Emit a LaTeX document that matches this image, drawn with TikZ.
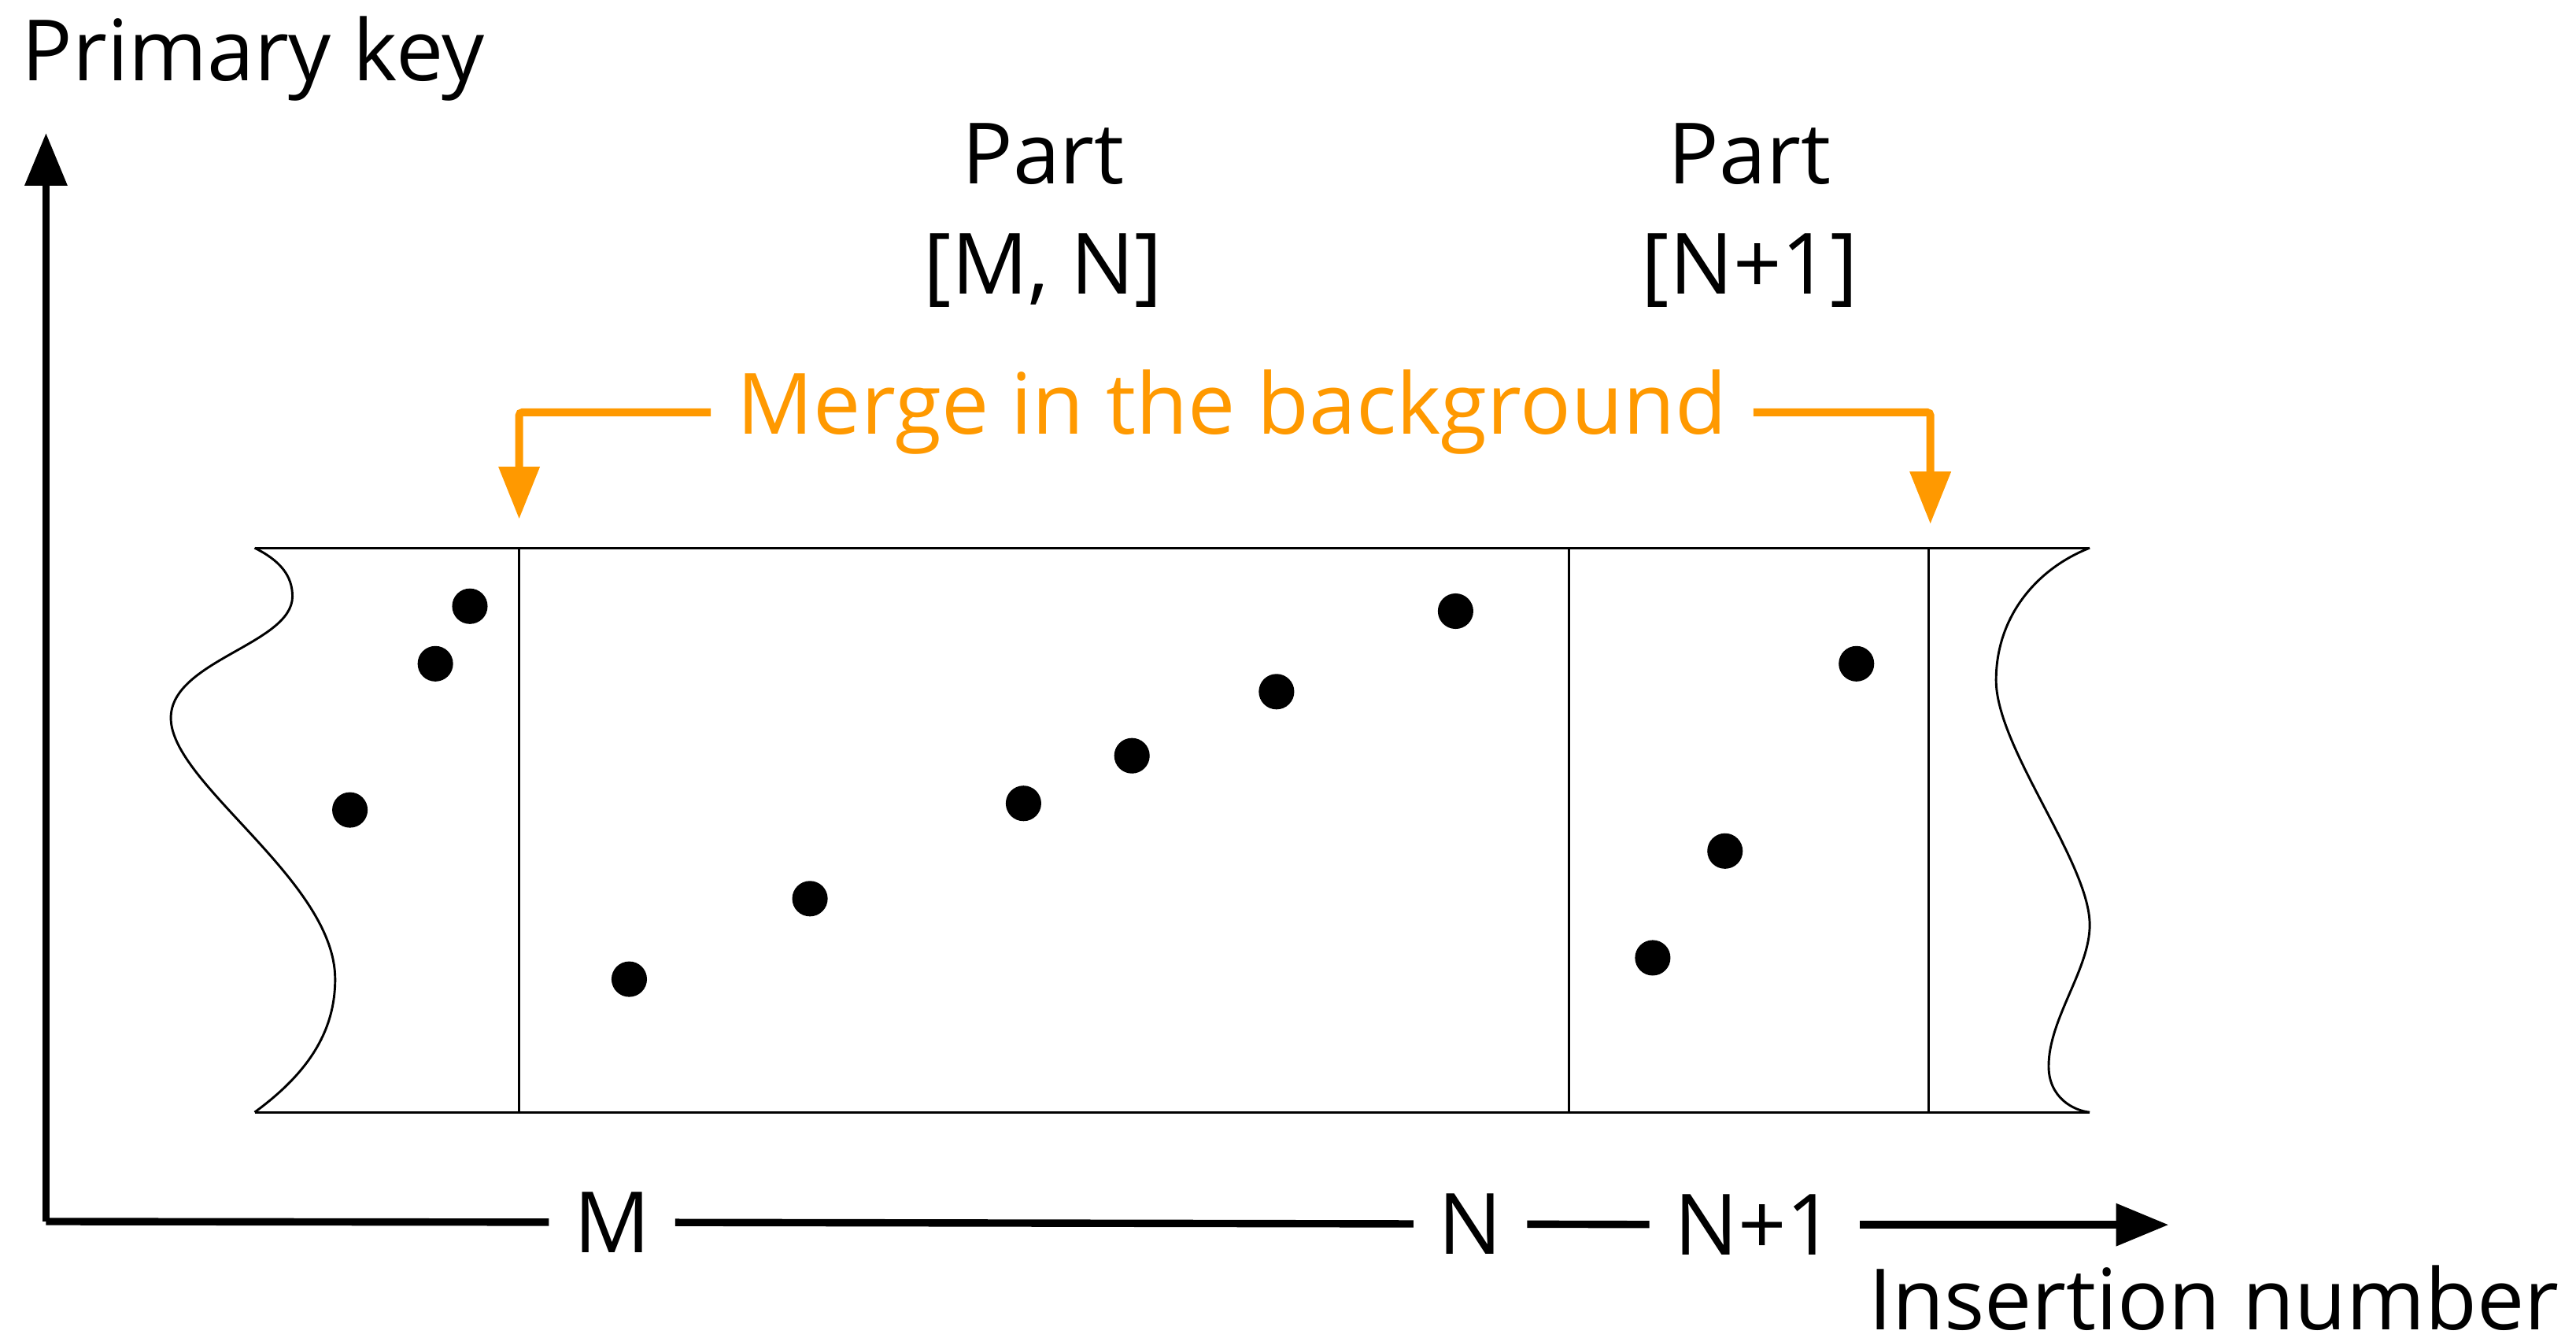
\documentclass[tikz,border=0pt]{standalone}
\usepackage{fontspec}
\setmainfont{Open Sans}
\usetikzlibrary{arrows.meta}
\definecolor{mergeorange}{RGB}{255,153,0}
\begin{document}
\begin{tikzpicture}[x=1pt,y=-1pt,
  lbl/.style={font=\fontsize{51.5}{62}\selectfont, inner sep=0pt},
  axlbl/.style={lbl, inner xsep=15pt, inner ysep=0pt},
  ax/.style={line width=4.5pt},
  axtip/.style={-{Triangle[length=32pt,width=25pt]}},
  box/.style={line width=1.4pt},
  dot/.style={fill=black},
  orangearrow/.style={line width=4.8pt, draw=mergeorange, rounded corners=2pt,
     -{Triangle[length=32pt,width=24pt]}}]
\useasboundingbox (0,0) rectangle (1568,814.4);

% texts
\node[lbl, anchor=base west] (pk) at (13,49) {Primary key};
\node[lbl, anchor=base east] (ins) at (1558,809.5) {Insertion number};
\node[lbl, anchor=base] (partA) at (635,112) {Part};
\node[lbl, anchor=base] (rangeA) at (635,179) {[M, N]};
\node[lbl, anchor=base] (partB) at (1065,112) {Part};
\node[lbl, anchor=base] (rangeB) at (1065,179) {[N+1]};
\node[lbl, text=mergeorange, inner xsep=16pt] (merge) at (750,251) {Merge in the background};

% axes
\coordinate (O) at (28,743.5);
\coordinate (ytop) at (28,81);
\coordinate (xend) at (1320,745.5);
\node[axlbl] (M) at (372.5,744) {M};
\node[axlbl] (N) at (895,745) {N};
\node[axlbl] (N1) at (1068,745.5) {N+1};
\draw[ax, axtip] (O) -- (ytop);
\draw[ax] (O) -- (M);
\draw[ax] (M) -- (N);
\draw[ax] (N) -- (N1);
\draw[ax, axtip] (N1) -- (xend);

% merge arrows
\coordinate (t1) at (316,316);
\coordinate (t2) at (1175,319);
\draw[orangearrow] (merge.west) -| (t1);
\draw[orangearrow] (merge.east) -| (t2);

% box
\draw[box] (155,333.5) -- (1272,333.5);
\draw[box] (155,677) -- (1272,677);
\draw[box] (316,333.5) -- (316,677);
\draw[box] (955,333.5) -- (955,677);
\draw[box] (1174,333.5) -- (1174,677);
% left torn edge
\draw[box] (155,333.5) .. controls (170,341) and (178,350) .. (178,363)
  .. controls (178,392) and (104,402) .. (104,437)
  .. controls (104,477) and (204,536) .. (204,596)
  .. controls (204,630) and (185,655) .. (155,677);
% right torn edge
\draw[box] (1272,333.5) .. controls (1240,346) and (1215,375) .. (1215,414)
  .. controls (1215,455) and (1272,525) .. (1272,563)
  .. controls (1272,590) and (1247,620) .. (1247,649)
  .. controls (1247,668) and (1262,676) .. (1272,677);

% dots
\foreach \px/\py in {286/369, 265/404, 213/493, 383/596, 493/547, 623/489, 689/460, 777/421, 886/372, 1130/404, 1050/518, 1006/583}
  \fill[dot] (\px,\py) circle[radius=10.8pt];
\end{tikzpicture}
\end{document}
